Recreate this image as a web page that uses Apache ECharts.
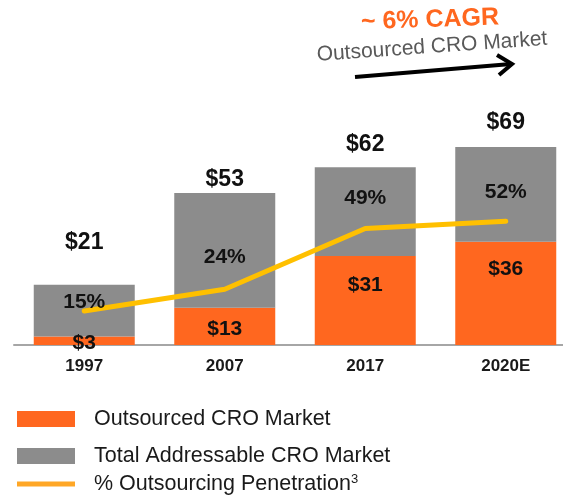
<!DOCTYPE html>
<html>
<head>
<meta charset="utf-8">
<script src="https://cdn.jsdelivr.net/npm/echarts@6/dist/echarts.min.js"></script>
<style>
  html, body { margin: 0; padding: 0; background: #fff; }
  #chart { width: 563px; height: 496px; }
</style>
</head>
<body>
<div id="chart"></div>
<script>
// 年份
const years = ['1997', '2007', '2017', '2020E']
// 外包CRO市场 ($B)
const outsourced = [3, 13, 31, 36]
// 总可及CRO市场 ($B)
const totalMarket = [21, 53, 62, 69]
// 外包渗透率 (%)
const penetration = [15, 24, 49, 52]

// 堆叠的灰色部分 = 总量 - 外包
const remainder = totalMarket.map((t, i) => t - outsourced[i])

const ORANGE = '#FF671F'
const GRAY = '#8C8C8C'
const YELLOW = '#FFC000'
const FONT = '"Liberation Sans", Arial, sans-serif'

// 标签偏移
const totalDist = [31, 2, 11, 13]
const outDist = [-4, 11, 19, 17]
const pctDist = [-2, 21, 20, 18]

var myChart = echarts.init(document.getElementById('chart'))

var option = {
  animation: false,
  textStyle: { fontFamily: FONT },
  grid: [
    // 柱状图
    { left: 14, width: 562, top: 100, bottom: 151, containLabel: false, outerBoundsMode: 'none' },
    // 折线图 (0% 在基线下方)
    { left: 14, width: 562, top: 104.5, bottom: 148.5, containLabel: false, outerBoundsMode: 'none' }
  ],
  legend: [
    {
      data: ['Outsourced CRO Market', 'Total Addressable CRO Market'],
      orient: 'vertical',
      left: 12,
      top: 403,
      icon: 'rect',
      itemWidth: 58,
      itemHeight: 16,
      itemGap: 15,
      selectedMode: false,
      textStyle: { fontSize: 21.5, color: '#1a1a1a', fontFamily: FONT, padding: [0, 0, 0, 14] }
    },
    {
      data: [{ name: '% Outsourcing Penetration', icon: 'rect', itemStyle: { color: '#FFA726' } }],
      orient: 'vertical',
      left: 12,
      top: 468,
      itemWidth: 58,
      itemHeight: 5,
      selectedMode: false,
      formatter: name => name + '{sup|3}',
      textStyle: {
        fontSize: 21.5, color: '#1a1a1a', fontFamily: FONT, padding: [0, 0, 0, 14],
        rich: { sup: { fontSize: 13, verticalAlign: 'top', color: '#1a1a1a', fontFamily: FONT } }
      }
    }
  ],
  xAxis: [
    {
      type: 'category',
      data: years,
      gridIndex: 0,
      axisLine: { lineStyle: { color: '#A6A6A6', width: 2 } },
      axisTick: { show: false },
      axisLabel: { fontSize: 17, fontWeight: 'bold', color: '#1a1a1a', margin: 13, fontFamily: FONT }
    },
    { type: 'category', data: years, gridIndex: 1, show: false }
  ],
  yAxis: [
    { type: 'value', gridIndex: 0, min: 0, max: 85.4, show: false, splitLine: { show: false } },
    { type: 'value', gridIndex: 1, min: 0, max: 100, show: false, splitLine: { show: false } }
  ],
  series: [
    {
      name: 'Outsourced CRO Market',
      type: 'bar',
      stack: 'total',
      barWidth: 101,
      itemStyle: { color: ORANGE },
      data: outsourced.map((v, i) => ({
        value: v,
        label: {
          show: true,
          position: 'insideTop',
          distance: outDist[i],
          formatter: '${c}',
          fontSize: 21,
          fontWeight: 'bold',
          color: '#111',
          fontFamily: FONT
        }
      })),
      z: 2
    },
    {
      name: 'Total Addressable CRO Market',
      type: 'bar',
      stack: 'total',
      barWidth: 101,
      itemStyle: { color: GRAY },
      data: remainder.map((v, i) => ({
        value: v,
        label: {
          show: true,
          position: 'top',
          distance: totalDist[i],
          formatter: () => '$' + totalMarket[i],
          fontSize: 23,
          fontWeight: 'bold',
          color: '#111',
          fontFamily: FONT
        }
      })),
      z: 2
    },
    {
      name: '% Outsourcing Penetration',
      type: 'line',
      xAxisIndex: 1,
      yAxisIndex: 1,
      symbol: 'circle',
      symbolSize: 0,
      itemStyle: { color: YELLOW },
      lineStyle: { color: YELLOW, width: 5, cap: 'round', join: 'round' },
      data: penetration.map((v, i) => ({
        value: v,
        label: {
          show: true,
          position: 'top',
          distance: pctDist[i],
          formatter: '{c}%',
          fontSize: 21,
          fontWeight: 'bold',
          color: '#111',
          fontFamily: FONT
        }
      })),
      z: 5
    }
  ],
  graphic: [
    {
      type: 'text',
      x: 430, y: 20,
      rotation: 0.035,
      style: {
        text: '~ 6% CAGR',
        fill: ORANGE,
        font: 'bold 25px ' + FONT,
        align: 'center',
        verticalAlign: 'middle'
      }
    },
    {
      type: 'text',
      x: 432, y: 47,
      rotation: 0.07,
      style: {
        text: 'Outsourced CRO Market',
        fill: '#595959',
        font: '21px ' + FONT,
        align: 'center',
        verticalAlign: 'middle'
      }
    },
    {
      type: 'polyline',
      shape: { points: [[355, 77], [511, 64]] },
      style: { stroke: '#000', lineWidth: 4, fill: null }
    },
    {
      type: 'polyline',
      shape: { points: [[497, 55], [512, 64], [499, 75]] },
      style: { stroke: '#000', lineWidth: 4, fill: null, lineJoin: 'miter' }
    }
  ]
}

myChart.setOption(option)

window.onresize = () => {
  myChart.resize()
}
</script>
</body>
</html>
